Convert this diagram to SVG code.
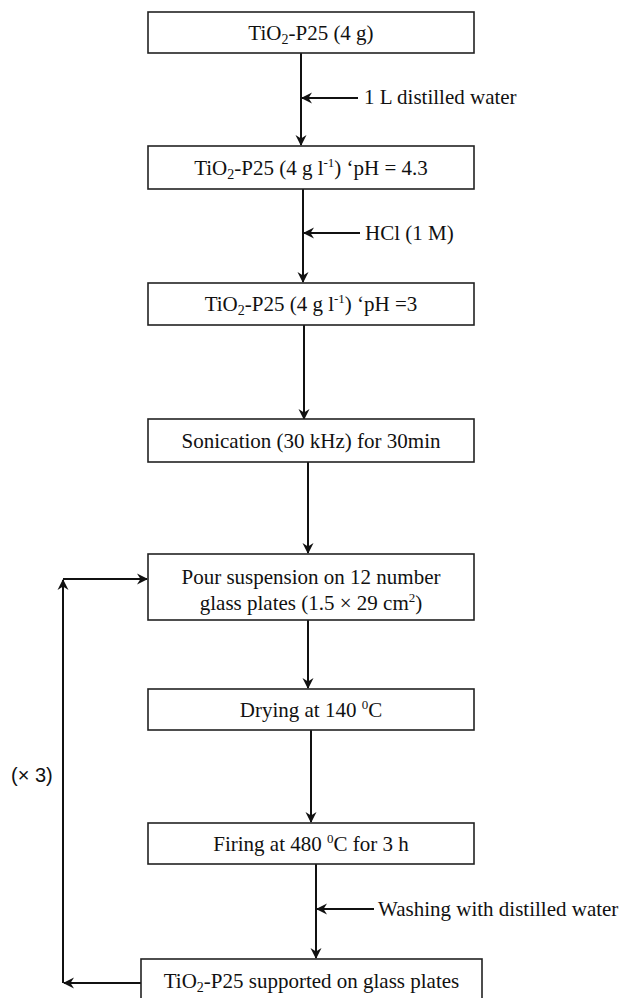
<svg xmlns="http://www.w3.org/2000/svg" width="625" height="998" viewBox="0 0 625 998">
<style>
.box{fill:#fff;stroke:#222;stroke-width:1.6}
.t{font-family:"Liberation Serif","Times New Roman",serif;font-size:21px;fill:#111}
.c{text-anchor:middle}
.ln{fill:none;stroke:#111;stroke-width:2;marker-end:url(#ah)}
.sub{font-size:14px}
.sup{font-size:13px}
</style>
<defs>
<marker id="ah" viewBox="-12 -7 14 14" refX="0" refY="0" markerWidth="14" markerHeight="14" markerUnits="userSpaceOnUse" orient="auto">
<path d="M1,0 L-10,-5.5 L-6.5,0 L-10,5.5 Z" fill="#111"/>
</marker>
</defs>
<rect width="625" height="998" fill="#fff"/>

<g id="connectors">
<path class="ln" d="M301,53 V145"/>
<path class="ln" d="M358,98 H302"/>
<path class="ln" d="M303,189 V282"/>
<path class="ln" d="M360,233 H304"/>
<path class="ln" d="M304,325 V419"/>
<path class="ln" d="M308,462 V553"/>
<path class="ln" d="M308,620 V688"/>
<path class="ln" d="M311,730 V822"/>
<path class="ln" d="M316,864 V958"/>
<path class="ln" d="M374,909 H317"/>
<path class="ln" d="M141,983 H64"/>
<path class="ln" d="M63,983 V580"/>
<path class="ln" d="M63,579 H147"/>
</g>

<g id="n1">
<rect class="box" x="148" y="12" width="326" height="41"/>
<text class="t c" x="311" y="40">TiO<tspan class="sub" dy="4">2</tspan><tspan dy="-4">-P25 (4 g)</tspan></text>
</g>
<g id="lbl1">
<text class="t" x="364" y="104">1 L distilled water</text>
</g>
<g id="n2">
<rect class="box" x="148" y="146" width="326" height="43"/>
<text class="t c" x="311" y="175">TiO<tspan class="sub" dy="4">2</tspan><tspan dy="-4">-P25 (4 g l</tspan><tspan class="sup" dy="-8">-1</tspan><tspan dy="8">) ‘pH = 4.3</tspan></text>
</g>
<g id="lbl2">
<text class="t" x="365" y="240">HCl (1 M)</text>
</g>
<g id="n3">
<rect class="box" x="148" y="283" width="326" height="42"/>
<text class="t c" x="311" y="311">TiO<tspan class="sub" dy="4">2</tspan><tspan dy="-4">-P25 (4 g l</tspan><tspan class="sup" dy="-8">-1</tspan><tspan dy="8">) ‘pH =3</tspan></text>
</g>
<g id="n4">
<rect class="box" x="148" y="419" width="326" height="43"/>
<text class="t c" x="311" y="448">Sonication (30 kHz) for 30min</text>
</g>
<g id="n5">
<rect class="box" x="148" y="554" width="326" height="66"/>
<text class="t c" x="311" y="584">Pour suspension on 12 number</text>
<text class="t c" x="311" y="610">glass plates (1.5 × 29 cm<tspan class="sup" dy="-8">2</tspan><tspan dy="8">)</tspan></text>
</g>
<g id="n6">
<rect class="box" x="148" y="689" width="326" height="41"/>
<text class="t c" x="311" y="717">Drying at 140 <tspan class="sup" dy="-8">0</tspan><tspan dy="8">C</tspan></text>
</g>
<g id="lbl4">
<text x="11" y="782" style="font-family:'Liberation Sans',Arial,sans-serif;font-size:20px;fill:#111">(× 3)</text>
</g>
<g id="n7">
<rect class="box" x="148" y="823" width="326" height="41"/>
<text class="t c" x="311" y="851">Firing at 480 <tspan class="sup" dy="-8">0</tspan><tspan dy="8">C for 3 h</tspan></text>
</g>
<g id="lbl3">
<text class="t" x="378" y="916">Washing with distilled water</text>
</g>
<g id="n8">
<rect class="box" x="141" y="959" width="341" height="50"/>
<text class="t c" x="311.5" y="988">TiO<tspan class="sub" dy="4">2</tspan><tspan dy="-4">-P25 supported on glass plates</tspan></text>
</g>
</svg>
